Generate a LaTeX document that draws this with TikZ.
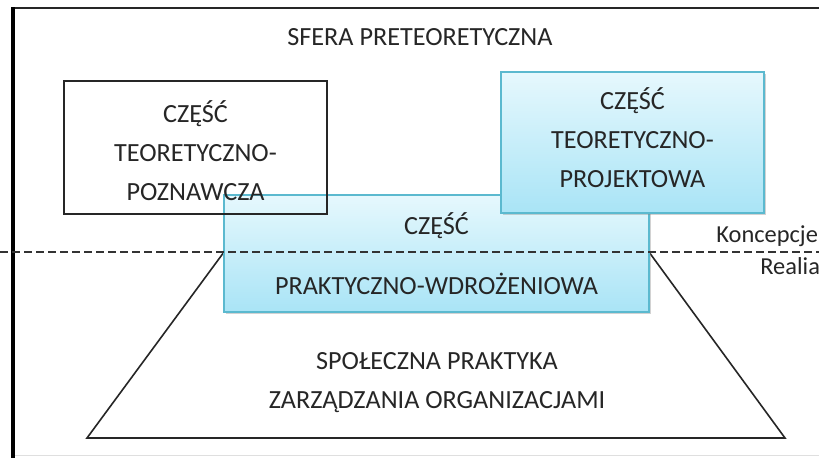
\documentclass[tikz,border=0pt]{standalone}
\usepackage{fontspec}
\setmainfont{Carlito}
\usetikzlibrary{shadows}
\definecolor{boxtop}{HTML}{E6F8FD}
\definecolor{boxbottom}{HTML}{A9E4F6}
\definecolor{boxedge}{HTML}{5BB9CF}
\tikzset{
  txt/.style={font=\fontsize{13.1}{19.5}\selectfont, text=black!85, align=center},
  sidetxt/.style={font=\fontsize{12.2}{15}\selectfont, text=black!85, anchor=west, inner sep=1pt},
  whitebox/.style={txt, draw=black!85, line width=0.6pt, inner sep=0pt},
  bluebox/.style={txt, draw=boxedge, line width=0.6pt, inner sep=0pt,
    top color=boxtop, bottom color=boxbottom,
    drop shadow={shadow xshift=0.8pt, shadow yshift=-0.8pt, opacity=0.35}}
}
\begin{document}
\begin{tikzpicture}[x=0.5pt,y=-0.5pt]
    \useasboundingbox (0,0) rectangle (819,457);
    \clip (0,0) rectangle (819,457);
    \fill[white] (0,0) rectangle (819,457);
    % frame
    \draw[gray!25, line width=0.5pt] (13,455) -- (819,455);
    \draw[black!85, line width=1.2pt] (13,8) -- (830,8);
    \draw[black, line width=2pt] (13,7) -- (13,460);
    \node[txt] (sfera) at (420,37) {SFERA PRETEORETYCZNA};
    % trapezoid corners
    \coordinate (tl) at (224,252);
    \coordinate (tr) at (649,252);
    \coordinate (bl) at (87,438);
    \coordinate (br) at (785,438);
    \draw[black!85, line width=0.8pt] (tl) -- (bl) -- (br) -- (tr);
    \node[txt] (praktyka) at (437,383) {SPOŁECZNA PRAKTYKA\\ZARZĄDZANIA ORGANIZACJAMI};
    % boxes
    \node[bluebox, minimum width=212.5pt, minimum height=58.5pt] (wdroz) at (436.5,253.5)
        {CZĘŚĆ\\[10.5pt]PRAKTYCZNO-WDROŻENIOWA};
    \node[bluebox, minimum width=131.5pt, minimum height=70.5pt] (projekt) at (632.5,142.5) {};
    \node[txt] (projekttxt) at (632.5,137.5) {CZĘŚĆ\\TEORETYCZNO-\\PROJEKTOWA};
    \node[whitebox, minimum width=131.5pt, minimum height=66.5pt] (poznaw) at (195.5,147.5) {};
    \node[txt] (poznawtxt) at (195.5,151) {CZĘŚĆ\\TEORETYCZNO-\\POZNAWCZA};
    % boundary line
    \coordinate (dl) at (0,252);
    \coordinate (dr) at (819,252);
    \draw[black!80, line width=0.6pt, dash pattern=on 4pt off 2pt] (dl) -- (dr);
    \node[sidetxt] (konc) at (714,236) {Koncepcje};
    \node[sidetxt] (realia) at (758,266) {Realia};
\end{tikzpicture}
\end{document}
